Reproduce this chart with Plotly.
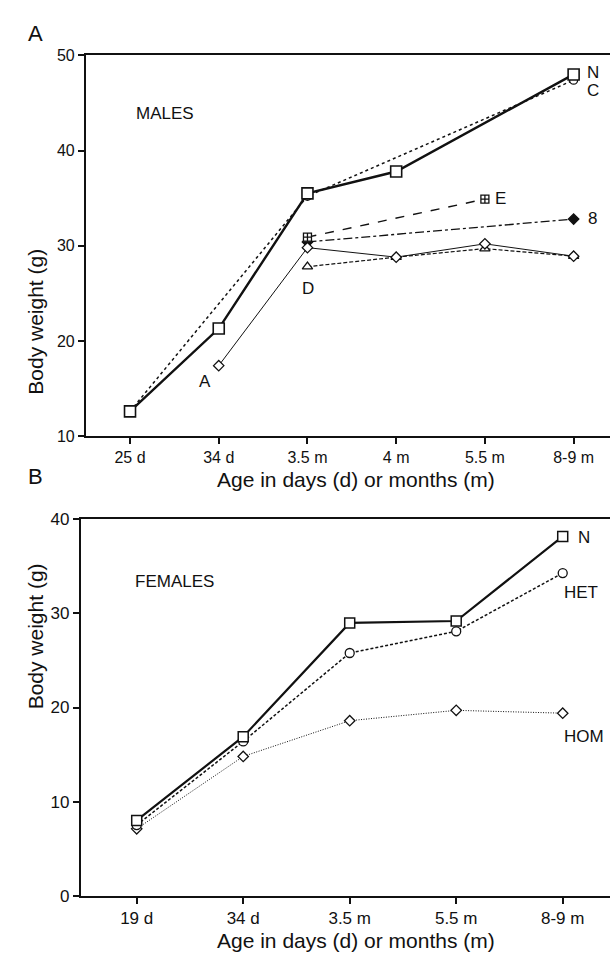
import plotly.graph_objects as go

# ---------------- data ----------------
male_ages = ["25 d", "34 d", "3.5 m", "4 m", "5.5 m", "8-9 m"]
male_N = [12.6, 21.3, 35.5, 37.8, None, 48.0]
male_C = [12.6, None, 35.2, None, None, 47.4]
male_A = [None, 17.4, 29.8, 28.8, 30.2, 28.9]
male_D = [None, None, 27.8, 28.8, 29.7, 28.9]
male_E = [None, None, 30.9, None, 34.9, None]
male_8 = [None, None, 30.4, None, None, 32.8]

female_ages = ["19 d", "34 d", "3.5 m", "5.5 m", "8-9 m"]
female_N = [8.0, 16.9, 29.0, 29.2, 38.2]
female_HET = [7.5, 16.4, 25.8, 28.1, 34.3]
female_HOM = [7.1, 14.8, 18.6, 19.7, 19.4]

FONT = "Liberation Sans, Arial, Helvetica, sans-serif"
BLACK = "#111111"

fig = go.Figure()

def add(x, y, xa, ya, symbol, msize, width, dash, mcolor="white", mlw=1.3):
    fig.add_trace(go.Scatter(
        x=x, y=y, xaxis=xa, yaxis=ya, mode="lines+markers", connectgaps=True,
        line=dict(color=BLACK, width=width, dash=dash),
        marker=dict(symbol=symbol, size=msize, color=mcolor,
                    line=dict(color=BLACK, width=mlw)),
        showlegend=False, cliponaxis=False))

# Males (panel A)
add(male_ages, male_C, "x", "y", "circle", 8, 1.5, "dot")
add(male_ages, male_8, "x", "y", "diamond", 8, 1.3, "dashdot", mcolor=BLACK)
add(male_ages, male_E, "x", "y", "square-cross", 8, 1.4, "dash", mcolor="white")
add(male_ages, male_D, "x", "y", "triangle-up", 9, 1.2, "4px,2px")
add(male_ages, male_A, "x", "y", "diamond", 8, 1.0, "solid")
add(male_ages, male_N, "x", "y", "square", 11, 2.4, "solid", mlw=1.6)

# Females (panel B)
add(female_ages, female_HOM, "x2", "y2", "diamond", 8, 1.0, "1px,1.5px")
add(female_ages, female_HET, "x2", "y2", "circle", 9, 1.5, "3px,2px")
add(female_ages, female_N, "x2", "y2", "square", 10, 2.2, "solid", mlw=1.5)

axis_common = dict(showline=True, linecolor=BLACK, linewidth=2.2,
                   ticks="outside", ticklen=6, tickwidth=1.6, tickcolor=BLACK,
                   showgrid=False, zeroline=False)

fig.update_layout(
    width=610, height=962,
    margin=dict(l=0, r=0, t=0, b=0),
    paper_bgcolor="white", plot_bgcolor="white",
    font=dict(family=FONT, color=BLACK),
    xaxis=dict(domain=[0.141, 1.0], anchor="y", type="category",
               categoryorder="array", categoryarray=male_ages,
               range=[-0.496, 5.41], mirror=True,
               tickfont=dict(size=16, family=FONT, color=BLACK), **axis_common),
    yaxis=dict(domain=[0.5471, 0.9508], anchor="x", range=[10, 50],
               tickvals=[10, 20, 30, 40, 50],
               tickfont=dict(size=16, family=FONT, color=BLACK), **axis_common),
    xaxis2=dict(domain=[0.1328, 1.0], anchor="y2", type="category",
                categoryorder="array", categoryarray=female_ages,
                range=[-0.523, 4.444], mirror=True,
                tickfont=dict(size=17, family=FONT, color=BLACK), **axis_common),
    yaxis2=dict(domain=[0.0598, 0.4587], anchor="x2", range=[0, 40],
                tickvals=[0, 10, 20, 30, 40],
                tickfont=dict(size=17, family=FONT, color=BLACK), **axis_common),
)

def txt(x, y, s, size, xanchor="center"):
    fig.add_annotation(x=x / 610, y=1 - y / 962, xref="paper", yref="paper",
                       text=s, showarrow=False, xanchor=xanchor, yanchor="middle",
                       font=dict(size=size, family=FONT, color=BLACK))

# panel letters
txt(35, 25, "A", 22)
txt(35, 477, "B", 22)

# axis titles
txt(356, 480, "Age in days (d) or months (m)", 21)
txt(356, 950, "Age in days (d) or months (m)", 21)
fig.add_annotation(x=22 / 610, y=1 - 243 / 962, xref="paper", yref="paper",
                   text="Body weight (g)", showarrow=False, textangle=-90,
                   font=dict(size=21, family=FONT, color=BLACK))
fig.add_annotation(x=22 / 610, y=1 - 717 / 962, xref="paper", yref="paper",
                   text="Body weight (g)", showarrow=False, textangle=-90,
                   font=dict(size=21, family=FONT, color=BLACK))

# in-plot labels (males)
txt(134, 107, "MALES", 17, xanchor="left")
txt(593, 65, "N", 17)
txt(593, 83, "C", 17)
txt(500, 193, "E", 17)
txt(592, 214, "8", 17)
txt(308, 285, "D", 17)
txt(205, 380, "A", 17)

# in-plot labels (females)
txt(133, 584, "FEMALES", 17, xanchor="left")
txt(584, 539, "N", 17)
txt(581, 595, "HET", 17)
txt(584, 742, "HOM", 17)

fig.write_html("out.html")
